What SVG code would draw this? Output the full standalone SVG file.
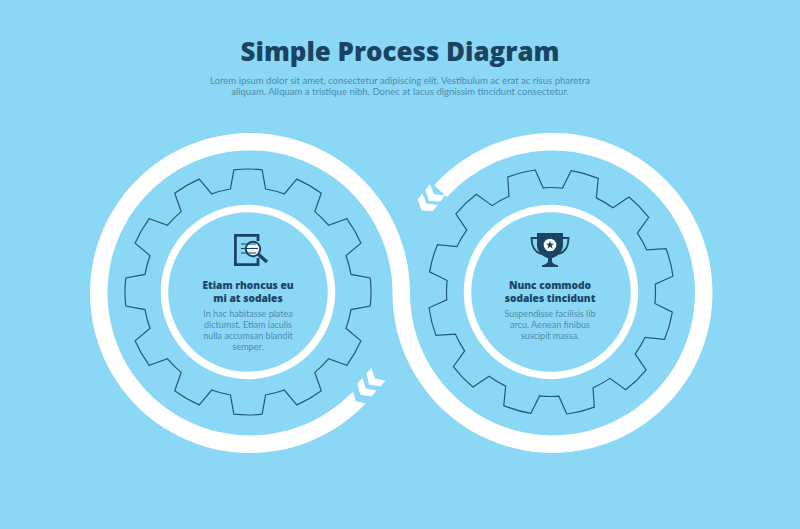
<svg xmlns="http://www.w3.org/2000/svg" xmlns:xlink="http://www.w3.org/1999/xlink" width="800" height="529" viewBox="0 0 800 529">
<style>
text{text-anchor:middle}
.title{font-family:"Open Sans","Liberation Sans",sans-serif;font-size:25.9px;font-weight:800;fill:#1b4463}
.sub{font-family:"Lato","Liberation Sans",sans-serif;font-size:9.55px;fill:#4b8cab}
.head{font-family:"Open Sans","Liberation Sans",sans-serif;font-size:10.2px;font-weight:800;fill:#1b4463}
.body{font-family:"Lato","Liberation Sans",sans-serif;font-size:9.05px;fill:#4b8cab}
.gear{fill:none;stroke:#24577a;stroke-width:1.2}
.ring{fill:none;stroke:#fff;stroke-width:7.5}
.dark{fill:#1b4463}
.line{fill:none;stroke:#1b4463;stroke-width:2.8}
.thin{fill:none;stroke:#1b4463;stroke-width:1.2}
</style>
<defs>
<path id="gear" d="M-17.6,-103L-14.1,-122.2A123,123 0 0 1 14.1,-122.2L17.6,-103A104.5,104.5 0 0 1 36.3,-98L48.8,-112.9A123,123 0 0 1 73.3,-98.7L66.8,-80.4A104.5,104.5 0 0 1 80.4,-66.8L98.7,-73.3A123,123 0 0 1 112.9,-48.8L98,-36.3A104.5,104.5 0 0 1 103,-17.6L122.2,-14.1A123,123 0 0 1 122.2,14.1L103,17.6A104.5,104.5 0 0 1 98,36.3L112.9,48.8A123,123 0 0 1 98.7,73.3L80.4,66.8A104.5,104.5 0 0 1 66.8,80.4L73.3,98.7A123,123 0 0 1 48.8,112.9L36.3,98A104.5,104.5 0 0 1 17.6,103L14.1,122.2A123,123 0 0 1 -14.1,122.2L-17.6,103A104.5,104.5 0 0 1 -36.3,98L-48.8,112.9A123,123 0 0 1 -73.3,98.7L-66.8,80.4A104.5,104.5 0 0 1 -80.4,66.8L-98.7,73.3A123,123 0 0 1 -112.9,48.8L-98,36.3A104.5,104.5 0 0 1 -103,17.6L-122.2,14.1A123,123 0 0 1 -122.2,-14.1L-103,-17.6A104.5,104.5 0 0 1 -98,-36.3L-112.9,-48.8A123,123 0 0 1 -98.7,-73.3L-80.4,-66.8A104.5,104.5 0 0 1 -66.8,-80.4L-73.3,-98.7A123,123 0 0 1 -48.8,-112.9L-36.3,-98A104.5,104.5 0 0 1 -17.6,-103Z"/>
<polygon id="chev" fill="#fff" points="1.5,-9.5 -5,0 1.5,9.5 9,9.5 3.5,0 9,-9.5"/>
</defs>
<rect width="800" height="529" fill="#8bd8f6"/>
<g id="header">
<text class="title" x="400" y="61">Simple Process Diagram</text>
<text class="sub" x="400" y="84">Lorem ipsum dolor sit amet, consectetur adipiscing elit. Vestibulum ac erat ac risus pharetra</text>
<text class="sub" x="400" y="95">aliquam. Aliquam a tristique nibh. Donec at lacus dignissim tincidunt consectetur.</text>
</g>
<g id="connectors">
<path fill="#fff" d="M365.7,403.5L355.6,400.9L353,391.4A142.5,142.5 0 1 1 392.5,293A160,160 0 1 0 434.1,185.3L447,197.1A142.5,142.5 0 1 1 410,293A160,160 0 1 0 365.7,403.5Z"/>
<use href="#chev" xlink:href="#chev" transform="translate(363.5,391) rotate(-48)"/>
<use href="#chev" xlink:href="#chev" transform="translate(372.5,381) rotate(-48)"/>
<use href="#chev" xlink:href="#chev" transform="translate(432,197) rotate(-53)"/>
<use href="#chev" xlink:href="#chev" transform="translate(424.5,206.5) rotate(-53)"/>
</g>
<g id="node-left">
<use class="gear" href="#gear" xlink:href="#gear" transform="translate(248,292)"/>
<circle class="ring" cx="248" cy="292" r="83.5"/>
<g id="icon-search">
<path class="line" d="M258,241V235.4H235.4V264.6H258V258"/>
<circle cx="253" cy="249" r="7.2" fill="#e8f7fd" stroke="#1b4463" stroke-width="2"/>
<path class="thin" d="M241,244H256M241,248.5H258M241,253H256"/>
<path d="M258.5,254.5L267,262" fill="none" stroke="#1b4463" stroke-width="3.4"/>
</g>
<text class="head" x="248" y="289">Etiam rhoncus eu</text>
<text class="head" x="248" y="302">mi at sodales</text>
<text class="body" x="248" y="317">In hac habitasse platea</text>
<text class="body" x="248" y="328">dictumst. Etiam iaculis</text>
<text class="body" x="248" y="339">nulla accumsan blandit</text>
<text class="body" x="248" y="350">semper.</text>
</g>
<g id="node-right">
<use class="gear" href="#gear" xlink:href="#gear" transform="translate(551,292) rotate(16)"/>
<circle class="ring" cx="551" cy="292" r="83.5"/>
<g id="icon-trophy">
<path class="dark" d="M537,233H563V245C563,253 556,257 552,258V261C552,263 555,265 558,265V267H542V265C545,265 548,263 548,261V258C544,257 537,253 537,245Z"/>
<path class="thin" style="stroke-width:1.8" d="M537,238H531.5C531.5,247 535,252 541,254M563,238H568.5C568.5,247 565,252 559,254"/>
<circle cx="550" cy="245" r="6.3" fill="#fff"/>
<polygon class="dark" points="550,240.8 551.06,243.54 554,243.7 551.71,245.56 552.47,248.4 550,246.8 547.53,248.4 548.29,245.56 546,243.7 548.94,243.54"/>
</g>
<text class="head" x="550" y="289">Nunc commodo</text>
<text class="head" x="550" y="302">sodales tincidunt</text>
<text class="body" x="550" y="317">Suspendisse facilisis lib</text>
<text class="body" x="550" y="328">arcu. Aenean finibus</text>
<text class="body" x="550" y="339">suscipit massa.</text>
</g>
</svg>
